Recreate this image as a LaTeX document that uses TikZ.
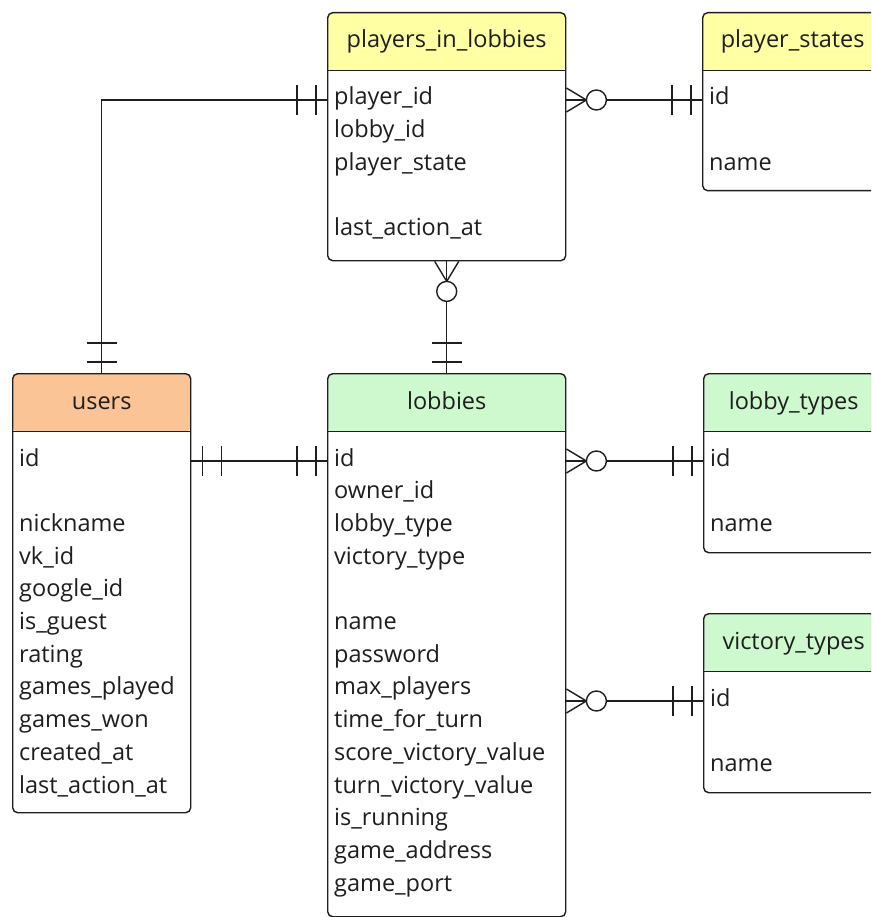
\documentclass[tikz,border=0pt]{standalone}
\usepackage{fontspec}
\setmainfont{Open Sans}
\usetikzlibrary{calc}

\definecolor{hdyellow}{RGB}{255,255,163}
\definecolor{hdorange}{RGB}{250,196,150}
\definecolor{hdgreen}{RGB}{206,248,206}
\definecolor{ink}{RGB}{30,30,30}

\tikzset{
  x=1pt, y=-1pt,
  entity/.style={draw=ink, line width=1.4pt, rounded corners=5pt, fill=white,
    anchor=north west, inner sep=0pt,
    path picture={
      \fill[#1] (path picture bounding box.north west)
        rectangle ([yshift=-58pt]path picture bounding box.north east);
      \draw[ink, line width=1.4pt] ([yshift=-58pt]path picture bounding box.north west)
        -- ([yshift=-58pt]path picture bounding box.north east);}},
  field/.style={anchor=west, inner sep=0pt, text height=14pt, text depth=4pt,
    text=ink, font=\fontsize{23.5}{28}\selectfont},
  title/.style={inner sep=0pt, text height=14pt, text depth=4pt,
    text=ink, font=\fontsize{23.5}{28}\selectfont},
  link/.style={draw=ink, line width=1.4pt},
  % exactly one: two bars, local +x points away from the entity
  oneone/.pic={\draw[link] (11,-15) -- (11,15) (30,-15) -- (30,15);},
  % zero or many: crow's foot and ring
  zmany/.pic={\draw[link] (0,-12) -- (20,0) -- (0,12);
              \draw[link, fill=white] (30,0) circle[radius=10];},
}

% place the fields of an entity: index/text pairs, index = row number
\newcommand\entityfields[2]{%
  \foreach \k/\f in {#2}{%
    \node[field] (#1-\k) at ($(#1.north west)+(7,{88+(\k-1)*32.7})$) {\f};}}

\begin{document}
\begin{tikzpicture}
\useasboundingbox (0,0) rectangle (871,917);
\fill[white] (0,0) rectangle (871,917);
\clip (0,0) rectangle (871,917);

% entities
\node[entity=hdyellow, minimum width=238pt, minimum height=248pt] (pil) at (327,12) {};
\node[entity=hdyellow, minimum width=180pt, minimum height=178pt] (pst) at (702,12) {};
\node[entity=hdorange, minimum width=178pt, minimum height=439pt] (users) at (12,373) {};
\node[entity=hdgreen, minimum width=238pt, minimum height=543pt] (lob) at (327,373) {};
\node[entity=hdgreen, minimum width=180pt, minimum height=179pt] (lt) at (703,373) {};
\node[entity=hdgreen, minimum width=180pt, minimum height=179pt] (vt) at (703,613) {};

% titles
\node[title] (pil-t) at ([yshift=-31pt]pil.north) {players\_in\_lobbies};
\node[title] (pst-t) at ([yshift=-31pt]pst.north) {player\_states};
\node[title] (users-t) at ([yshift=-31pt]users.north) {users};
\node[title] (lob-t) at ([yshift=-31pt]lob.north) {lobbies};
\node[title] (lt-t) at ([yshift=-31pt]lt.north) {lobby\_types};
\node[title] (vt-t) at ([yshift=-31pt]vt.north) {victory\_types};

% fields
\entityfields{pil}{1/player\_id, 2/lobby\_id, 3/player\_state, 5/last\_action\_at}
\entityfields{pst}{1/id, 3/name}
\entityfields{users}{1/id, 3/nickname, 4/vk\_id, 5/google\_id, 6/is\_guest, 7/rating,
  8/games\_played, 9/games\_won, 10/created\_at, 11/last\_action\_at}
\entityfields{lob}{1/id, 2/owner\_id, 3/lobby\_type, 4/victory\_type, 6/name, 7/password,
  8/max\_players, 9/time\_for\_turn, 10/score\_victory\_value, 11/turn\_victory\_value,
  12/is\_running, 13/game\_address, 14/game\_port}
\entityfields{lt}{1/id, 3/name}
\entityfields{vt}{1/id, 3/name}

% relationships
\draw[link] (users.north) |- (pil.west |- pil-1);
\pic[rotate=90] at (users.north) {oneone};
\pic[rotate=180] at (pil.west |- pil-1) {oneone};

\draw[link] (users.east |- lob-1) -- (lob.west |- lob-1);
\pic at (users.east |- lob-1) {oneone};
\pic[rotate=180] at (lob.west |- lob-1) {oneone};

\draw[link] (pil.south) -- (lob.north);
\pic[rotate=-90] at (pil.south) {zmany};
\pic[rotate=90] at (lob.north) {oneone};

\draw[link] (pil.east |- pst-1) -- (pst.west |- pst-1);
\pic at (pil.east |- pst-1) {zmany};
\pic[rotate=180] at (pst.west |- pst-1) {oneone};

\draw[link] (lob.east |- lt-1) -- (lt.west |- lt-1);
\pic at (lob.east |- lt-1) {zmany};
\pic[rotate=180] at (lt.west |- lt-1) {oneone};

\draw[link] (lob.east |- vt-1) -- (vt.west |- vt-1);
\pic at (lob.east |- vt-1) {zmany};
\pic[rotate=180] at (vt.west |- vt-1) {oneone};
\end{tikzpicture}
\end{document}
